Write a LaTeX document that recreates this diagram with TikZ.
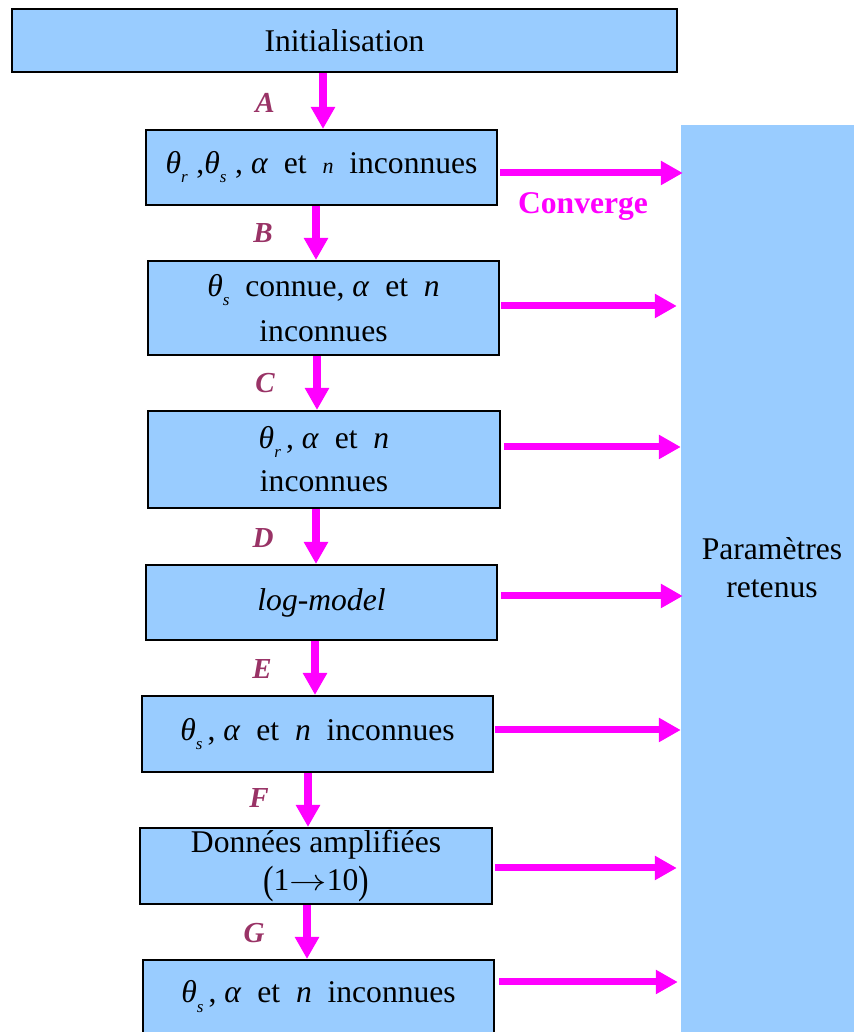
\documentclass[tikz,border=0pt]{standalone}
\usepackage{fontspec}
\setmainfont{Liberation Serif}
\usetikzlibrary{arrows.meta, calc}
\definecolor{cFillBlue}{RGB}{153,204,255}
\definecolor{cMagenta}{RGB}{255,0,255}
\definecolor{cLetter}{RGB}{153,51,102}
\newcommand{\bodyfont}{\fontsize{31.6}{38}\selectfont}
\newcommand{\lblfont}{\fontsize{29}{29}\selectfont\bfseries\itshape}
\newcommand{\thsub}[1]{\textit{θ}\raisebox{-9pt}{\fontsize{17}{17}\selectfont\itshape #1}}
\newcommand{\tallpar}[1]{\raisebox{-3pt}{\scalebox{1}[1.25]{#1}}}
\tikzset{
  nd/.style={rectangle, draw=black, fill=cFillBlue, line width=2pt,
             align=center, font=\bodyfont, inner sep=0pt},
  nStep/.style={nd, minimum width=351pt},
  nSide/.style={rectangle, fill=cFillBlue, inner sep=0pt},
  lbl/.style={font=\lblfont, text=cLetter},
  myarr/.style={-{Triangle[length=22pt, width=23pt]}, color=cMagenta},
  aDown/.style ={myarr, line width=8pt},
  aRight/.style={myarr, line width=7pt},
}

\begin{document}
\begin{tikzpicture}[x=1pt, y=1pt]
\useasboundingbox (0,0) rectangle (853,1032);

%% ============================================================
%% RESULT COLUMN  (right, runs off the bottom)
%% ============================================================
\node[nSide, minimum width=180pt, minimum height=915pt] (ret) at (771, 449.5) {};
\node[font=\bodyfont, align=center] (rettxt) at (772, 464) {Paramètres\\retenus};

%% ============================================================
%% STEP BOXES  -- one column, top to bottom
%% ============================================================
\node[nd, minimum width=665pt, minimum height=63pt] (init) at (344.5, 991.5)
  {Initialisation};

\node[nStep, minimum height=75pt] (b1) at (321.5, 864.5)
  {\thsub{r}\;,\thsub{s}\;,~\textit{α}\enspace et\enspace{\fontsize{22}{22}\selectfont\textit{n}}\enspace inconnues};

\node[nStep, minimum height=94pt] (b2) at (323.5, 724)
  {\thsub{s}~ connue, \textit{α}~ et~ \textit{n}\\[7pt] inconnues};

\node[nStep, minimum height=97pt, minimum width=352pt] (b3) at (324, 572.5)
  {\thsub{r}\,,~\textit{α}~ et~ \textit{n}\\[5pt] inconnues};

\node[nStep, minimum height=75pt] (b4) at (321.5, 429.5)
  {\textit{log-model}};

\node[nStep, minimum height=76pt] (b5) at (317.5, 298)
  {\thsub{s}\,,~\textit{α}~ et~ \textit{n}~ inconnues};

\node[nStep, minimum height=76pt, minimum width=352pt] (b6) at (316, 166)
  {Données amplifiées\\\tallpar{(}1\scalebox{1.5}[1.2]{$\rightarrow$}10\tallpar{)}};

% last box is cut by the page edge
\node[nStep, minimum height=84pt, text height=22pt, text depth=20pt] (b7) at (318.5, 30)
  {\thsub{s}\,,~\textit{α}~ et~ \textit{n}~ inconnues};

%% ============================================================
%% DOWN ARROWS  + step letters
%% ============================================================
\coordinate (colA) at (323, 0);
\coordinate (colB) at (316, 0);
\coordinate (colC) at (317, 0);
\coordinate (colD) at (316, 0);
\coordinate (colE) at (315, 0);
\coordinate (colF) at (308, 0);
\coordinate (colG) at (307, 0);

\draw[aDown] (init.south -| colA) -- (b1.north -| colA);
\draw[aDown] (b1.south -| colB) -- (b2.north -| colB);
\draw[aDown] (b2.south -| colC) -- (b3.north -| colC);
\draw[aDown] (b3.south -| colD) -- (b4.north -| colD);
\draw[aDown] (b4.south -| colE) -- (b5.north -| colE);
\draw[aDown] (b5.south -| colF) -- (b6.north -| colF);
\draw[aDown] (b6.south -| colG) -- (b7.north -| colG);

\node[lbl] (lA) at (265, 929) {A};
\node[lbl] (lB) at (263, 799) {B};
\node[lbl] (lC) at (265, 649) {C};
\node[lbl] (lD) at (263, 494) {D};
\node[lbl] (lE) at (262, 363) {E};
\node[lbl] (lF) at (259, 234) {F};
\node[lbl] (lG) at (254,  99) {G};

%% ============================================================
%% RIGHT ARROWS  -> result column
%% ============================================================
\draw[aRight] ($(b1.east)+(2,-5.5)$) -- ($(b1.east -| ret.west)+(2,-5.5)$);
\draw[aRight] ($(b2.east)+(1,2)$)    -- ($(b2.east -| ret.west)+(-4,2)$);
\draw[aRight] ($(b3.east)+(3,12.5)$) -- ($(b3.east -| ret.west)+(0,12.5)$);
\draw[aRight] ($(b4.east)+(3,6.5)$)  -- ($(b4.east -| ret.west)+(2,6.5)$);
\draw[aRight] ($(b5.east)+(1,4)$)    -- ($(b5.east -| ret.west)+(0,4)$);
\draw[aRight] ($(b6.east)+(2,-2)$)   -- ($(b6.east -| ret.west)+(-4,-2)$);
\draw[aRight] ($(b7.east)+(4,20)$)   -- ($(b7.east -| ret.west)+(-3,20)$);

\node[font=\bodyfont\bfseries, text=cMagenta] (conv) at (583, 825) {Converge};

\end{tikzpicture}
\end{document}
